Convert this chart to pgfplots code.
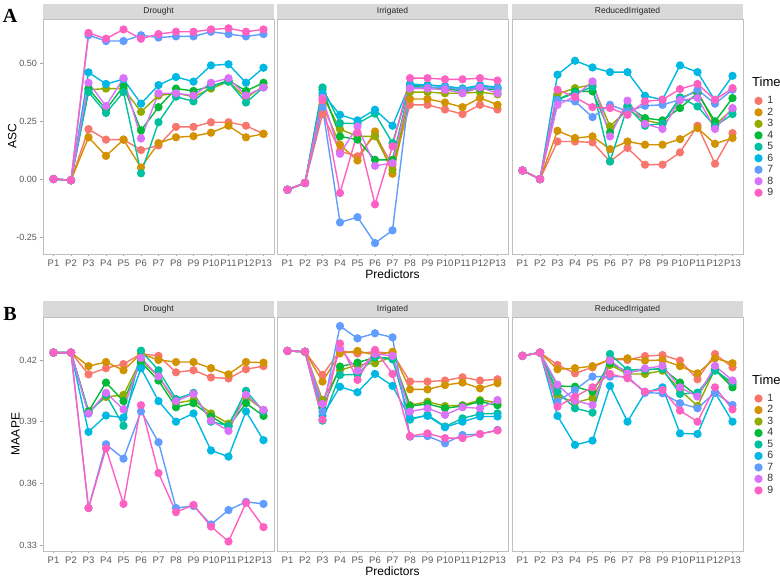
\documentclass[border=0pt]{standalone}
\usepackage{fontspec}
\setmainfont{Liberation Sans}
\newfontfamily\serifbold{Liberation Serif}
\usepackage{pgfplots}
\pgfplotsset{compat=1.18}
\usepackage{pgfplotstable}
\definecolor{c1}{HTML}{F8766D}
\definecolor{c2}{HTML}{D39200}
\definecolor{c3}{HTML}{93AA00}
\definecolor{c4}{HTML}{00BA38}
\definecolor{c5}{HTML}{00C19F}
\definecolor{c6}{HTML}{00B9E3}
\definecolor{c7}{HTML}{619CFF}
\definecolor{c8}{HTML}{DB72FB}
\definecolor{c9}{HTML}{FF61C3}
\definecolor{stripgray}{HTML}{D9D9D9}

% ASC Drought
\pgfplotstableread{
x s1 s2 s3 s4 s5 s6 s7 s8 s9
1 0 0 0 0 0 0 0 0 0
2 -0.005 -0.005 -0.005 -0.005 -0.005 -0.005 -0.005 -0.005 -0.005
3 0.215 0.18 0.385 0.39 0.375 0.46 0.62 0.415 0.63
4 0.17 0.10 0.39 0.30 0.285 0.41 0.595 0.315 0.605
5 0.17 0.17 0.39 0.40 0.375 0.43 0.595 0.435 0.645
6 0.125 0.05 0.29 0.21 0.025 0.325 0.62 0.175 0.605
7 0.145 0.155 0.36 0.31 0.245 0.405 0.61 0.37 0.625
8 0.225 0.18 0.37 0.39 0.355 0.44 0.615 0.37 0.635
9 0.225 0.185 0.355 0.38 0.335 0.42 0.615 0.36 0.635
10 0.245 0.20 0.39 0.40 0.40 0.49 0.635 0.415 0.645
11 0.245 0.23 0.42 0.425 0.42 0.495 0.625 0.435 0.65
12 0.23 0.18 0.35 0.38 0.33 0.415 0.615 0.36 0.635
13 0.195 0.195 0.40 0.415 0.395 0.48 0.625 0.395 0.645
}\tAa
% ASC Irrigated
\pgfplotstableread{
x s1 s2 s3 s4 s5 s6 s7 s8 s9
1 -0.046 -0.046 -0.046 -0.046 -0.046 -0.046 -0.046 -0.046 -0.046
2 -0.017 -0.017 -0.017 -0.017 -0.017 -0.017 -0.017 -0.017 -0.017
3 0.28 0.32 0.36 0.385 0.395 0.37 0.31 0.35 0.34
4 0.12 0.148 0.215 0.184 0.241 0.277 -0.187 0.109 -0.06
5 0.098 0.08 0.184 0.17 0.239 0.253 -0.164 0.227 0.20
6 0.19 0.205 0.184 0.083 0.282 0.299 -0.276 0.057 -0.109
7 0.06 0.023 0.04 0.083 0.155 0.23 -0.221 0.069 0.141
8 0.32 0.345 0.375 0.40 0.405 0.41 0.395 0.39 0.435
9 0.32 0.345 0.375 0.395 0.405 0.405 0.395 0.39 0.435
10 0.30 0.33 0.37 0.39 0.40 0.40 0.395 0.385 0.43
11 0.28 0.31 0.37 0.38 0.39 0.39 0.385 0.37 0.43
12 0.32 0.35 0.375 0.39 0.40 0.405 0.395 0.395 0.435
13 0.30 0.32 0.365 0.385 0.395 0.395 0.39 0.37 0.425
}\tAb
% ASC ReducedIrrigated
\pgfplotstableread{
x s1 s2 s3 s4 s5 s6 s7 s8 s9
1 0.037 0.037 0.037 0.037 0.037 0.037 0.037 0.037 0.037
2 0 0 0 0 0 0 0 0 0
3 0.162 0.208 0.366 0.342 0.342 0.45 0.34 0.32 0.385
4 0.162 0.177 0.392 0.378 0.37 0.51 0.335 0.356 0.353
5 0.158 0.184 0.407 0.378 0.397 0.481 0.267 0.421 0.31
6 0.076 0.129 0.227 0.201 0.076 0.461 0.32 0.184 0.306
7 0.134 0.162 0.30 0.316 0.313 0.461 0.292 0.338 0.277
8 0.062 0.148 0.253 0.263 0.23 0.359 0.316 0.238 0.335
9 0.062 0.148 0.238 0.253 0.24 0.342 0.32 0.216 0.342
10 0.115 0.172 0.35 0.306 0.352 0.49 0.342 0.34 0.388
11 0.23 0.22 0.378 0.37 0.313 0.461 0.385 0.35 0.41
12 0.066 0.152 0.234 0.249 0.227 0.339 0.325 0.216 0.342
13 0.198 0.177 0.30 0.349 0.28 0.445 0.385 0.306 0.392
}\tAc
% MAAPE Drought
\pgfplotstableread{
x s1 s2 s3 s4 s5 s6 s7 s8 s9
1 0.4236 0.4236 0.4236 0.4236 0.4236 0.4236 0.4236 0.4236 0.4236
2 0.4236 0.4236 0.4236 0.4236 0.4236 0.4236 0.4236 0.4236 0.4236
3 0.413 0.417 0.395 0.395 0.394 0.385 0.348 0.394 0.348
4 0.416 0.419 0.402 0.409 0.403 0.393 0.379 0.404 0.377
5 0.418 0.415 0.403 0.400 0.388 0.392 0.372 0.396 0.350
6 0.423 0.423 0.420 0.419 0.4245 0.416 0.395 0.421 0.398
7 0.422 0.420 0.412 0.410 0.415 0.400 0.380 0.412 0.365
8 0.414 0.419 0.399 0.397 0.401 0.390 0.348 0.400 0.346
9 0.415 0.419 0.4005 0.399 0.404 0.394 0.349 0.4035 0.3495
10 0.4115 0.416 0.394 0.3925 0.390 0.376 0.340 0.3905 0.339
11 0.411 0.413 0.389 0.3875 0.388 0.373 0.347 0.3855 0.3317
12 0.4155 0.419 0.402 0.399 0.405 0.395 0.351 0.403 0.3505
13 0.417 0.4187 0.3957 0.3928 0.395 0.381 0.350 0.3957 0.3387
}\tBa
% MAAPE Irrigated
\pgfplotstableread{
x s1 s2 s3 s4 s5 s6 s7 s8 s9
1 0.4244 0.4244 0.4244 0.4244 0.4244 0.4244 0.4244 0.4244 0.4244
2 0.424 0.424 0.424 0.424 0.424 0.424 0.424 0.424 0.424
3 0.4127 0.4095 0.4005 0.3965 0.3905 0.3928 0.395 0.3986 0.391
4 0.4245 0.4232 0.415 0.4168 0.4127 0.407 0.4365 0.4257 0.428
5 0.4232 0.4244 0.4176 0.4187 0.413 0.4043 0.4305 0.4148 0.4103
6 0.424 0.4224 0.4184 0.4213 0.4216 0.4132 0.433 0.423 0.4249
7 0.4232 0.424 0.4215 0.4208 0.4203 0.4074 0.431 0.422 0.4132
8 0.4095 0.4057 0.398 0.3976 0.391 0.3916 0.3827 0.3949 0.383
9 0.4095 0.4057 0.3997 0.3986 0.3933 0.3928 0.383 0.3965 0.3843
10 0.410 0.4078 0.3976 0.3965 0.3876 0.3873 0.3795 0.3933 0.382
11 0.4116 0.409 0.398 0.3976 0.3916 0.390 0.3835 0.397 0.382
12 0.410 0.4062 0.4005 0.3997 0.3938 0.3925 0.384 0.3965 0.384
13 0.4106 0.4087 0.3993 0.398 0.394 0.3925 0.386 0.4005 0.3857
}\tBb
% MAAPE ReducedIrrigated
\pgfplotstableread{
x s1 s2 s3 s4 s5 s6 s7 s8 s9
1 0.422 0.422 0.422 0.422 0.422 0.422 0.422 0.422 0.422
2 0.4236 0.4236 0.4236 0.4236 0.4236 0.4236 0.4236 0.4236 0.4236
3 0.4176 0.4155 0.4025 0.4074 0.4046 0.3928 0.3998 0.408 0.3973
4 0.4135 0.416 0.3993 0.407 0.3965 0.3787 0.4054 0.4002 0.4022
5 0.4164 0.417 0.4014 0.4046 0.3944 0.3808 0.4119 0.3981 0.4067
6 0.4203 0.4203 0.4176 0.4184 0.4229 0.4074 0.4119 0.4197 0.4132
7 0.420 0.4208 0.4132 0.4143 0.4151 0.390 0.4119 0.4135 0.4111
8 0.4219 0.4197 0.4132 0.4151 0.4155 0.4041 0.4041 0.4159 0.4046
9 0.4224 0.420 0.4148 0.4159 0.4155 0.4067 0.4038 0.4171 0.4054
10 0.4197 0.417 0.4054 0.409 0.4035 0.3843 0.399 0.4067 0.3954
11 0.4106 0.4135 0.3976 0.4025 0.4041 0.384 0.3965 0.4022 0.390
12 0.4229 0.4208 0.4155 0.4151 0.4148 0.4041 0.4041 0.4171 0.4067
13 0.4164 0.4184 0.408 0.4067 0.409 0.390 0.3981 0.410 0.396
}\tBc

\pgfplotsset{
 panel/.style={
  scale only axis, width=231pt,
  xmin=0.4, xmax=13.6,
  xtick={1,...,13}, xticklabels={P1,P2,P3,P4,P5,P6,P7,P8,P9,P10,P11,P12,P13},
  axis line style={draw=black!25, line width=0.6pt},
  major tick length=2.5pt, tick align=outside,
  xtick pos=left, ytick pos=left,
  tick style={draw=black!35, line width=0.5pt},
  x tick label style={font=\fontsize{9.5}{10}\selectfont, text=black!65},
  y tick label style={font=\fontsize{9}{10}\selectfont, text=black!65},
  xlabel style={font=\fontsize{12}{13}\selectfont},
  ylabel style={font=\fontsize{12}{13}\selectfont},
  xlabel shift=-4pt, ylabel shift=-7pt,
 },
 toprow/.style={panel, height=235pt, ymin=-0.323, ymax=0.690,
  ytick={-0.25,0,0.25,0.5}, yticklabels={-0.25,0.00,0.25,0.50}},
 botrow/.style={panel, height=234pt, ymin=0.3271, ymax=0.4409,
  ytick={0.33,0.36,0.39,0.42}, yticklabels={0.33,0.36,0.39,0.42}},
 inner/.style={ytick=\empty},
 ser/.style={color=#1, mark=*, line width=1.4pt, mark size=3.4pt, mark options={solid}},
 leg/.style={
  legend style={at={(1.0515,0.671)}, anchor=north west, draw=none, fill=none,
   font=\fontsize{10.5}{11}\selectfont, row sep=2.7pt, inner sep=0pt,
   nodes={inner sep=0pt, text=black!80},
   /tikz/every odd column/.append style={column sep=5.5pt}},
  legend cell align=left,
  legend image code/.code={\draw[##1] plot[only marks] coordinates {(0pt,0pt)};},
 },
}

\newcommand{\allseries}[1]{%
 \pgfplotsinvokeforeach{1,...,9}{\addplot[ser=c##1] table[x=x,y=s##1]{#1};}%
}
\newcommand{\allseriesleg}[1]{%
 \pgfplotsinvokeforeach{1,...,9}{\addplot[ser=c##1] table[x=x,y=s##1]{#1};\addlegendentry{##1}}%
}

\begin{document}
\begin{tikzpicture}
\useasboundingbox (0pt,0pt) rectangle (780pt,579pt);
% top row
\begin{axis}[toprow, name=a1, at={(43pt,560pt)}, anchor=north west, ylabel={ASC}]
\allseries{\tAa}
\end{axis}
\begin{axis}[toprow, inner, name=a2, at={(277pt,560pt)}, anchor=north west, xlabel={Predictors}]
\allseries{\tAb}
\end{axis}
\begin{axis}[toprow, inner, leg, name=a3, at={(512pt,560pt)}, anchor=north west]
\allseriesleg{\tAc}
\end{axis}
% bottom row
\begin{axis}[botrow, name=b1, at={(43pt,262pt)}, anchor=north west, ylabel={MAAPE}]
\allseries{\tBa}
\end{axis}
\begin{axis}[botrow, inner, name=b2, at={(277pt,262pt)}, anchor=north west, xlabel={Predictors}]
\allseries{\tBb}
\end{axis}
\begin{axis}[botrow, inner, leg, name=b3, at={(512pt,262pt)}, anchor=north west]
\allseriesleg{\tBc}
\end{axis}
% strips
\foreach \n/\t in {a1/Drought,a2/Irrigated,a3/ReducedIrrigated}{
 \fill[stripgray] (\n.north west) rectangle ([yshift=15pt]\n.north east);
 \node[font=\fontsize{8.5}{9}\selectfont, text=black!85] at ([yshift=7.5pt]\n.north) {\t};
}
\foreach \n/\t in {b1/Drought,b2/Irrigated,b3/ReducedIrrigated}{
 \fill[stripgray] (\n.north west) rectangle ([yshift=16pt]\n.north east);
 \node[font=\fontsize{8.5}{9}\selectfont, text=black!85] at ([yshift=8pt]\n.north) {\t};
}
% legend titles
\node[anchor=west, inner sep=0pt, font=\fontsize{13}{14}\selectfont] at (752pt,497pt) {Time};
\node[anchor=west, inner sep=0pt, font=\fontsize{13}{14}\selectfont] at (752pt,199pt) {Time};
\node[font=\serifbold\bfseries\fontsize{20}{20}\selectfont] at (10pt,563pt) {A};
\node[font=\serifbold\bfseries\fontsize{20}{20}\selectfont] at (10pt,265pt) {B};
\end{tikzpicture}
\end{document}
